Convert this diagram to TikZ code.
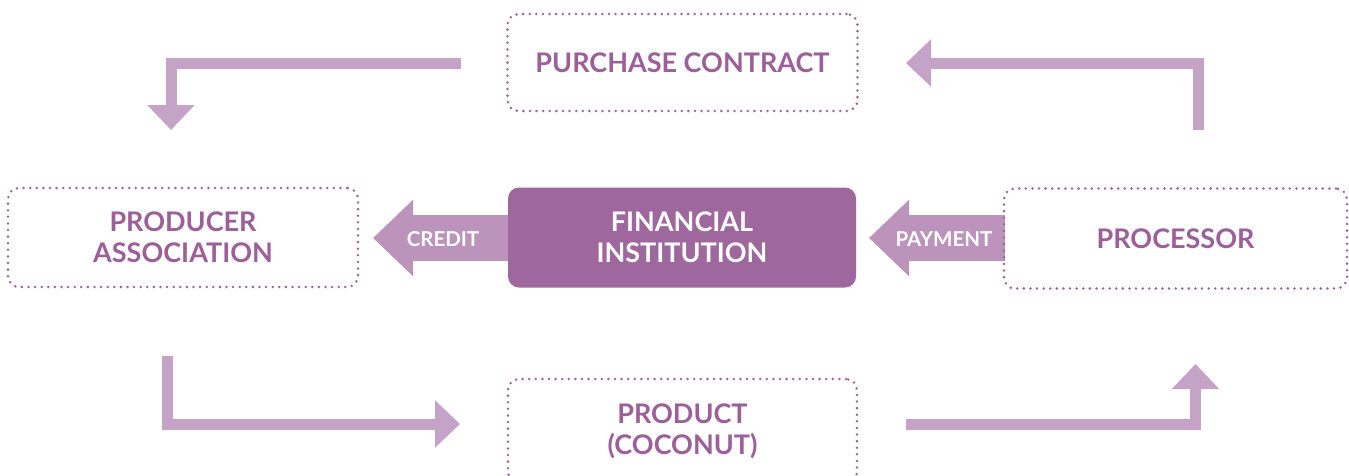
\documentclass[tikz,border=0pt]{standalone}
\usepackage{fontspec}
\setmainfont{Lato}
\usetikzlibrary{arrows.meta}
\definecolor{txtpurple}{HTML}{9C5F9A}
\definecolor{darkfill}{HTML}{9E679D}
\definecolor{lightarrow}{HTML}{C5A3C6}
\definecolor{midarrow}{HTML}{BC93BA}
\definecolor{dotcol}{HTML}{9E649E}
\tikzset{
  dotbox/.style={draw=dotcol, line width=2.8pt, line cap=round, dash pattern=on 0pt off 6.6pt,
    rounded corners=11pt, text=txtpurple, align=center, inner sep=0pt,
    font=\fontsize{27}{31}\selectfont\bfseries},
  fillbox/.style={fill=darkfill, rounded corners=11pt, text=white, align=center, inner sep=0pt,
    font=\fontsize{27}{31}\selectfont\bfseries},
  elbow/.style={draw=lightarrow, line width=11pt, -{Triangle[width=46pt,length=25pt]}},
  block/.style={draw=midarrow, line width=46pt, -{Triangle[width=74pt,length=40pt]}},
  blocklabel/.style={text=white, font=\fontsize{20.5}{22}\selectfont\bfseries, inner sep=0pt},
}
\begin{document}
\begin{tikzpicture}[x=1pt,y=-1pt]
\useasboundingbox (0,0) rectangle (1349,475);
% block arrows (behind boxes)
\coordinate (credtip) at (373,238);
\coordinate (paytip) at (869,238);
\draw[block] (560,238) -- (credtip);
\draw[block] (1005,238) -- (paytip);
% boxes
\node[dotbox, minimum width=350pt, minimum height=97pt] (pc) at (682.5,62.5) {PURCHASE CONTRACT};
\node[dotbox, minimum width=350pt, minimum height=99pt] (pa) at (183,237.5) {PRODUCER\\ASSOCIATION};
\node[fillbox, minimum width=348pt, minimum height=100pt] (fi) at (682,237.5) {FINANCIAL\\INSTITUTION};
\node[dotbox, minimum width=343pt, minimum height=100pt] (proc) at (1175.5,238.5) {PROCESSOR};
\node[dotbox, minimum width=349pt, minimum height=104pt] (prod) at (682.5,431) {PRODUCT\\(COCONUT)};
% labels on block arrows
\node[blocklabel] (credl) at (443,239) {CREDIT};
\node[blocklabel] (payl) at (944,239) {PAYMENT};
% elbow arrows
\coordinate (tl1) at (461,63);
\coordinate (tl2) at (171,130);
\draw[elbow] (tl1) -| (tl2);
\coordinate (tr1) at (1198.5,130);
\coordinate (tr2) at (906,63);
\draw[elbow] (tr1) |- (tr2);
\coordinate (bl1) at (167.5,356);
\coordinate (bl2) at (460,424);
\draw[elbow] (bl1) |- (bl2);
\coordinate (br1) at (906,424);
\coordinate (br2) at (1195.5,364);
\draw[elbow] (br1) -| (br2);
\end{tikzpicture}
\end{document}
